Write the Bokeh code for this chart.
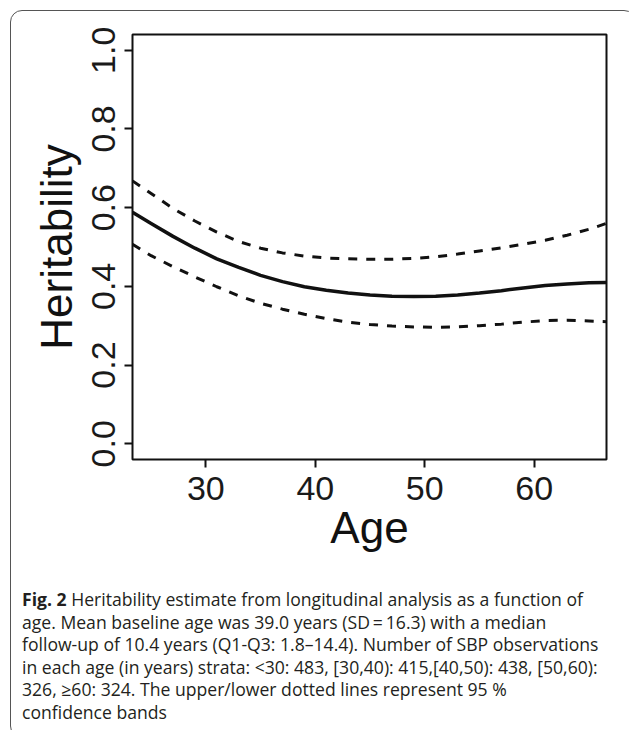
from bokeh.plotting import figure
from bokeh.models import FixedTicker, PrintfTickFormatter, Div, Range1d
from bokeh.layouts import column
from bokeh.embed import file_html
from bokeh.resources import INLINE

# Age (years)
age = [23.3, 25, 27, 29, 31, 33, 35, 37, 39, 41, 43, 45, 47, 49, 51, 53, 55, 57, 59, 61, 63, 65, 66.6]
# heritability estimate
h_est = [0.588, 0.560, 0.527, 0.497, 0.470, 0.448, 0.428, 0.412, 0.399, 0.390, 0.383, 0.378,
         0.375, 0.374, 0.375, 0.378, 0.383, 0.389, 0.396, 0.402, 0.406, 0.409, 0.410]
# upper 95% band
h_upper = [0.668, 0.636, 0.598, 0.566, 0.538, 0.514, 0.497, 0.485, 0.477, 0.472, 0.470, 0.469,
           0.469, 0.471, 0.475, 0.482, 0.490, 0.498, 0.507, 0.517, 0.530, 0.545, 0.560]
# lower 95% band
h_lower = [0.507, 0.478, 0.450, 0.424, 0.399, 0.376, 0.357, 0.342, 0.329, 0.318, 0.309, 0.303,
           0.299, 0.297, 0.296, 0.297, 0.300, 0.304, 0.309, 0.313, 0.314, 0.312, 0.310]

x_ticks = [30, 40, 50, 60]
y_ticks = [0.0, 0.2, 0.4, 0.6, 0.8, 1.0]

FONT = "Liberation Sans"

p = figure(width=614, height=572,
           x_range=Range1d(23.3, 66.6), y_range=Range1d(-0.04, 1.04),
           output_backend="svg", toolbar_location=None,
           min_border_left=121, min_border_top=23, min_border_right=19, min_border_bottom=124)
p.background_fill_color = None
p.border_fill_color = None
p.outline_line_color = "#111111"
p.outline_line_width = 2
p.outline_line_alpha = 1
p.grid.visible = False

for ax in (p.xaxis[0], p.yaxis[0]):
    ax.axis_line_color = None
    ax.major_tick_out = 8
    ax.major_tick_in = 0
    ax.minor_tick_out = 0
    ax.minor_tick_in = 0
    ax.major_tick_line_width = 2
    ax.major_tick_line_color = "#111111"
    ax.major_label_text_font = FONT
    ax.major_label_text_font_size = "34px"
    ax.major_label_text_color = "#1a1a1a"
    ax.axis_label_text_font = FONT
    ax.axis_label_text_font_size = "44px"
    ax.axis_label_text_font_style = "normal"
    ax.axis_label_text_color = "#111111"

p.xaxis.ticker = FixedTicker(ticks=x_ticks)
p.yaxis.ticker = FixedTicker(ticks=y_ticks)
p.yaxis.formatter = PrintfTickFormatter(format="%.1f")
p.yaxis.major_label_orientation = "vertical"
p.xaxis.major_label_standoff = 9
p.yaxis.major_label_standoff = 9
p.xaxis.axis_label = "Age"
p.yaxis.axis_label = "Heritability"
p.xaxis.axis_label_standoff = 0
p.yaxis.axis_label_standoff = 9

p.line(age, h_est, line_color="#111111", line_width=3.5)
p.line(age, h_upper, line_color="#111111", line_width=3, line_dash="9 9")
p.line(age, h_lower, line_color="#111111", line_width=3, line_dash="9 9")

caption_html = (
    "<b>Fig. 2</b> Heritability estimate from longitudinal analysis as a function of<br>"
    "age. Mean baseline age was 39.0 years (SD&#8201;=&#8201;16.3) with a median<br>"
    "follow-up of 10.4 years (Q1-Q3: 1.8&ndash;14.4). Number of SBP observations<br>"
    "in each age (in years) strata: &lt;30: 483, [30,40): 415,[40,50): 438, [50,60):<br>"
    "326, &ge;60: 324. The upper/lower dotted lines represent 95 %<br>"
    "confidence bands"
)
cap = Div(text=caption_html, width=614, height=144,
          styles={"font-family": "Open Sans", "font-size": "17.6px", "line-height": "22.5px",
                  "color": "#231f20", "padding-left": "6px", "white-space": "nowrap"})

layout = column(p, cap, styles={"border": "1.5px solid #555555", "border-radius": "12px",
                                "margin": "10px 0 0 10px", "background": "white"})

open("out.html", "w").write(file_html(layout, INLINE))
